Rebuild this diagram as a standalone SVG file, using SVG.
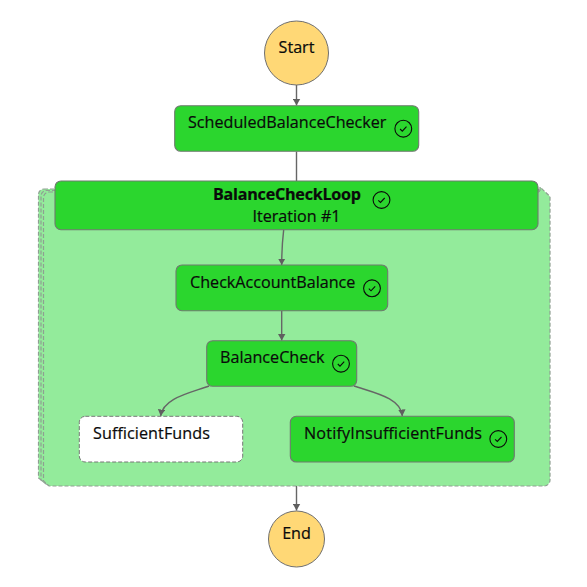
<svg xmlns="http://www.w3.org/2000/svg" width="587" height="587" viewBox="0 0 587 587">
<style>
text{font-family:"Open Sans","Noto Sans","Liberation Sans",sans-serif;font-size:16.15px;fill:#0a0a0a;stroke:#0a0a0a;stroke-width:.2}
.b{fill:#2bd62e;stroke:#6f7a6f;stroke-width:1.1}
.c{fill:#ffd876;stroke:#6f6f6f;stroke-width:1}
.l{fill:#93eb9b;stroke:#8f9f92;stroke-width:1.2;stroke-dasharray:4 2}
.e{fill:none;stroke:#666;stroke-width:1.4}
.i{fill:none;stroke:#0a0a0a;stroke-width:1.1}
</style>
<defs>
<marker id="a" markerWidth="8" markerHeight="8" refX="6.500" refY="4" orient="auto" markerUnits="userSpaceOnUse"><path d="M0 .3L6.500 4L0 7.700z" fill="#5f5f5f"/></marker>
<g id="k"><circle r="8.400" class="i"/><path d="M-3.200 .3L-1 2.500L3.200 -2" class="i"/></g>
</defs>
<g id="loop-container">
<path class="l" d="M44 189H538L546 195V478L542 484H46L38.500 478V194.500A5.500 5.500 0 0 1 44 189Z"/>
<path class="l" d="M46 190.500H538L548 196V480L544 485H48L41 480V196A5.500 5.500 0 0 1 46 190.500Z"/>
<path class="l" d="M49 192H540V187L550 196.500V480A6 6 0 0 1 544 486H49L43.500 481V197.500A5.500 5.500 0 0 1 49 192Z"/>
</g>
<g id="connectors">
<path class="e" marker-end="url(#a)" d="M296.500 85V105.500"/>
<path class="e" d="M296.500 151.500V181"/>
<path class="e" marker-end="url(#a)" d="M283.700 229.700C282.500 240 281.700 250 281.700 265"/>
<path class="e" marker-end="url(#a)" d="M281.700 310.700V340.500"/>
<path class="e" marker-end="url(#a)" d="M209 386C190 393 163 398 160.700 416"/>
<path class="e" marker-end="url(#a)" d="M354 386C375 393 401 398 402.300 416"/>
<path class="e" marker-end="url(#a)" d="M296.500 486V510.500"/>
</g>
<g id="start"><circle class="c" cx="296.500" cy="53" r="32"/><text x="296.500" y="53" text-anchor="middle">Start</text></g>
<g id="scheduled-balance-checker"><rect class="b" x="174.700" y="105.700" width="244" height="45.600" rx="6"/><text x="188" y="128">ScheduledBalanceChecker</text><use href="#k" x="403.300" y="128.700"/></g>
<g id="balance-check-loop"><rect class="b" x="55" y="181" width="483" height="48.700" rx="6"/><text x="287" y="199.500" text-anchor="middle" textLength="148" style="font-weight:700">BalanceCheckLoop</text><text x="296.500" y="222" text-anchor="middle">Iteration #1</text><use href="#k" x="381.500" y="200"/></g>
<g id="check-account-balance"><rect class="b" x="176" y="265" width="211.700" height="45.700" rx="6"/><text x="190" y="288">CheckAccountBalance</text><use href="#k" x="372" y="288.300"/></g>
<g id="balance-check"><rect class="b" x="206.700" y="340.700" width="150" height="45.600" rx="6"/><text x="220" y="363">BalanceCheck</text><use href="#k" x="341" y="363.700"/></g>
<g id="sufficient-funds"><rect x="79.300" y="416.300" width="163.400" height="45.700" rx="6" fill="#fff" stroke="#777" stroke-dasharray="4 2"/><text x="93" y="439" textLength="117">SufficientFunds</text></g>
<g id="notify-insufficient-funds"><rect class="b" x="290.300" y="416.300" width="224" height="45.700" rx="6"/><text x="304" y="439" textLength="178">NotifyInsufficientFunds</text><use href="#k" x="498.300" y="439"/></g>
<g id="end"><circle class="c" cx="296.500" cy="539" r="28"/><text x="296.500" y="539" text-anchor="middle">End</text></g>
</svg>
